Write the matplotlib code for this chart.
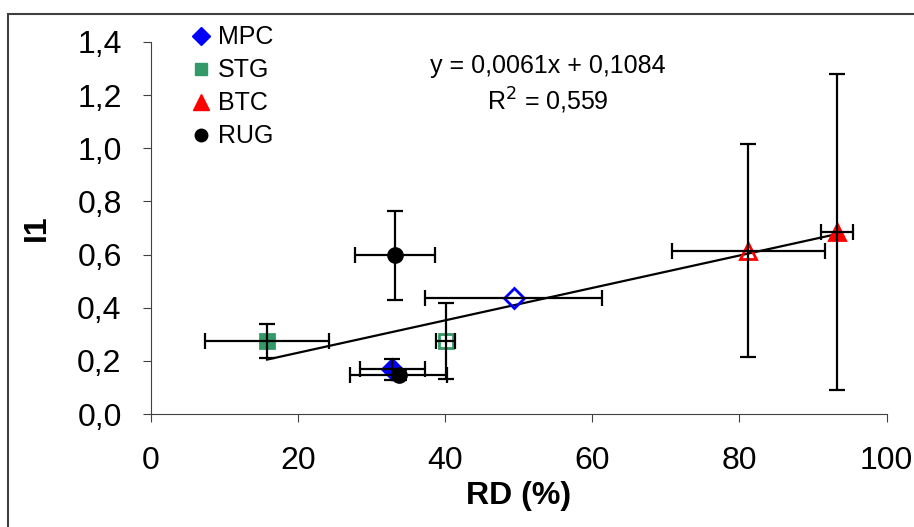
import matplotlib.pyplot as plt
from matplotlib.lines import Line2D
from matplotlib.patches import Rectangle
from matplotlib.ticker import FuncFormatter

plt.rcParams['font.family'] = ['Liberation Sans', 'DejaVu Sans']

# datos: RD (%) vs I1, con desviaciones
groups = ["MPC", "STG", "BTC", "RUG"]
colors = ["#0000ff", "#339966", "#ff0000", "#000000"]
markers = ["D", "s", "^", "o"]
sizes = [10, 10, 12, 10]

mpc_x = [32.8, 49.3]
mpc_y = [0.168, 0.435]
mpc_xerr = [4.4, 12.0]
mpc_yerr = [0.04, 0.0]
mpc_open = [False, True]

stg_x = [15.8, 40.1]
stg_y = [0.275, 0.275]
stg_xerr = [8.4, 1.3]
stg_yerr = [0.065, 0.143]
stg_open = [False, True]

btc_x = [81.2, 93.3]
btc_y = [0.615, 0.685]
btc_xerr = [10.4, 2.2]
btc_yerr = [0.40, 0.595]
btc_open = [True, False]

rug_x = [33.2, 33.7]
rug_y = [0.597, 0.147]
rug_xerr = [5.4, 6.6]
rug_yerr = [0.168, 0.02]
rug_open = [False, False]

slope = 0.0061
intercept = 0.1084
r2 = "0,559"

fig = plt.figure(figsize=(9.14, 5.27), dpi=100)
ax = fig.add_axes([0.165, 0.2144, 0.805, 0.706])

series = [(mpc_x, mpc_y, mpc_xerr, mpc_yerr, mpc_open),
          (stg_x, stg_y, stg_xerr, stg_yerr, stg_open),
          (btc_x, btc_y, btc_xerr, btc_yerr, btc_open),
          (rug_x, rug_y, rug_xerr, rug_yerr, rug_open)]

for (xs, ys, xe, ye, op), c, m, s in zip(series, colors, markers, sizes):
    for x, y, dx, dy, o in zip(xs, ys, xe, ye, op):
        ax.plot(x, y, marker=m, ms=s,
                mfc="none" if o else c, mec=c, mew=2, ls="none", zorder=3)
        ax.errorbar(x, y, xerr=dx, yerr=dy if dy > 0 else None, fmt="none",
                    ecolor="black", elinewidth=1.6, capsize=6, capthick=1.6, zorder=4)

# linea de tendencia
all_x = mpc_x + stg_x + btc_x + rug_x
x0, x1 = min(all_x), max(all_x)
ax.plot([x0, x1], [slope * x0 + intercept, slope * x1 + intercept],
        color="black", lw=1.6, zorder=2)

ax.text(0.539, 0.935, "y = 0,0061x + 0,1084", transform=ax.transAxes,
        ha="center", va="center", fontsize=18)
ax.text(0.539, 0.841, "R$^2$ = " + r2, transform=ax.transAxes,
        ha="center", va="center", fontsize=18)

ax.set_xlim(0, 100)
ax.set_ylim(0, 1.4)
ax.set_xticks([0, 20, 40, 60, 80, 100])
ax.set_yticks([0, 0.2, 0.4, 0.6, 0.8, 1.0, 1.2, 1.4])
ax.yaxis.set_major_formatter(FuncFormatter(lambda v, p: f"{v:.1f}".replace(".", ",")))
ax.tick_params(labelsize=23, length=6, direction="out", color="#404040")
ax.tick_params(axis="y", pad=15)
ax.tick_params(axis="x", pad=17)
ax.spines["top"].set_visible(False)
ax.spines["right"].set_visible(False)
ax.spines["left"].set_color("#404040")
ax.spines["bottom"].set_color("#404040")

ax.set_xlabel("RD (%)", fontsize=23, fontweight="bold")
ax.set_ylabel("I1", fontsize=23, fontweight="bold")
ax.xaxis.set_label_coords(0.5, -0.22)
ax.xaxis.label.set_va("center")
ax.yaxis.set_label_coords(-0.155, 0.5)
ax.yaxis.label.set_va("center")

handles = [Line2D([], [], marker=m, color=c, ls="none", ms=9 if m != "^" else 11)
           for c, m in zip(colors, markers)]
ax.legend(handles, groups, loc="upper left", bbox_to_anchor=(0.028, 1.105), frameon=False,
          fontsize=18, handlelength=0.6, handletextpad=0.35, labelspacing=0.36)

fig.patches.append(Rectangle((8 / 914, -0.01), 1.0, 1 - 14 / 527 + 0.01,
                             transform=fig.transFigure, fill=False,
                             edgecolor="#404040", lw=1.5))

fig.savefig("out.png", dpi=100)
